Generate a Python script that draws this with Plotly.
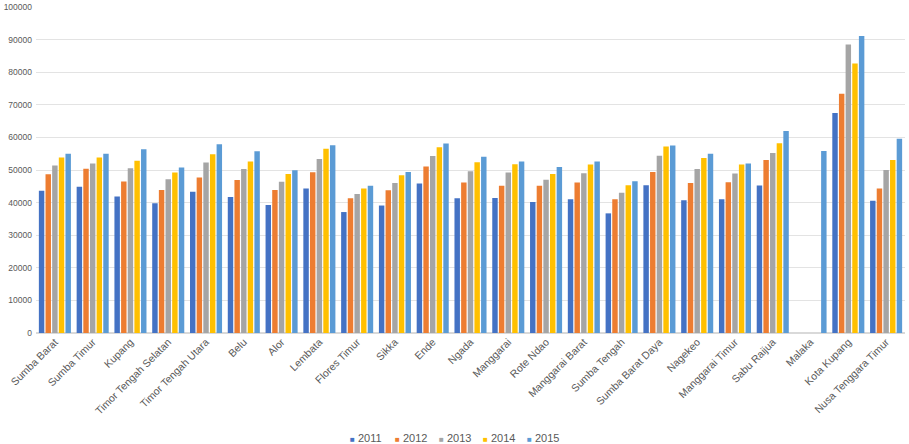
import plotly.graph_objects as go

categories = ["Sumba Barat", "Sumba Timur", "Kupang", "Timor Tengah Selatan", "Timor Tengah Utara",
              "Belu", "Alor", "Lembata", "Flores Timur", "Sikka", "Ende", "Ngada", "Manggarai",
              "Rote Ndao", "Manggarai Barat", "Sumba Tengah", "Sumba Barat Daya", "Nagekeo",
              "Manggarai Timur", "Sabu Raijua", "Malaka", "Kota Kupang", "Nusa Tenggara Timur"]

v2011 = [43600, 44850, 41900, 39800, 43300, 41700, 39300, 44300, 37100, 39100, 45850, 41300, 41400,
         40200, 41000, 36700, 45350, 40700, 41000, 45250, None, 67500, 40600]
v2012 = [48700, 50400, 46500, 43900, 47700, 46900, 43900, 49300, 41300, 43800, 51100, 46200, 45150,
         45150, 46200, 41000, 49400, 46050, 46250, 53100, None, 73400, 44300]
v2013 = [51400, 52000, 50500, 47200, 52300, 50300, 46400, 53400, 42600, 46000, 54300, 49600, 49200,
         47000, 49000, 43000, 54350, 50300, 48900, 55250, None, 88500, 50000]
v2014 = [53800, 53800, 52800, 49200, 54800, 52600, 48800, 56500, 44300, 48400, 57000, 52400, 51800,
         48800, 51700, 45350, 57200, 53700, 51700, 58200, None, 82700, 53100]
v2015 = [54950, 54950, 56400, 50800, 57900, 55750, 49900, 57600, 45150, 49400, 58100, 54100, 52600,
         50900, 52600, 46550, 57500, 54950, 52000, 62000, 55850, 91100, 59600]

series_names = ["2011", "2012", "2013", "2014", "2015"]
series_values = [v2011, v2012, v2013, v2014, v2015]
series_colors = ["#4472C4", "#ED7D31", "#A5A5A5", "#FFC000", "#5B9BD5"]

tickvals = [0, 10000, 20000, 30000, 40000, 50000, 60000, 70000, 80000, 90000, 100000]
ticktext = [str(t) for t in tickvals]

W, H = 909, 444
ML, MR, MT, MB = 36, 4, 7, 111

fig = go.Figure()
for name, vals, col in zip(series_names, series_values, series_colors):
    fig.add_trace(go.Bar(x=categories, y=vals, name=name, showlegend=False,
                         marker=dict(color=col, line=dict(width=0))))

# compact Excel-style legend
legend_x_px = [348, 393, 437, 481, 525]
annotations = []
for name, col, px in zip(series_names, series_colors, legend_x_px):
    annotations.append(dict(
        xref="paper", yref="paper",
        x=(px - ML) / (W - ML - MR), y=-(438 - (H - MB)) / (H - MT - MB),
        xanchor="left", yanchor="middle", showarrow=False,
        text=f"<span style='font-size:8px;color:{col}'>■</span> {name}",
        font=dict(family="Liberation Sans", size=11, color="#595959"),
    ))

fig.update_layout(
    width=W, height=H,
    margin=dict(l=ML, r=MR, t=MT, b=MB, autoexpand=False),
    paper_bgcolor="white", plot_bgcolor="white",
    barmode="group", bargap=0.12, bargroupgap=0.18,
    font=dict(family="Liberation Sans", size=11, color="#595959"),
    showlegend=False,
    annotations=annotations,
    xaxis=dict(tickangle=-45, showgrid=False, showline=False, ticks="", automargin=False,
               tickfont=dict(size=10.5, color="#595959")),
    yaxis=dict(range=[0, 100000], tickvals=tickvals, ticktext=ticktext, showgrid=True,
               gridcolor="#E3E3E3", gridwidth=1, zeroline=True, zerolinecolor="#D9D9D9",
               showline=False, ticks="", automargin=False, ticklabelstandoff=3,
               tickfont=dict(size=8.5, color="#595959")),
)

fig.write_html("out.html")
